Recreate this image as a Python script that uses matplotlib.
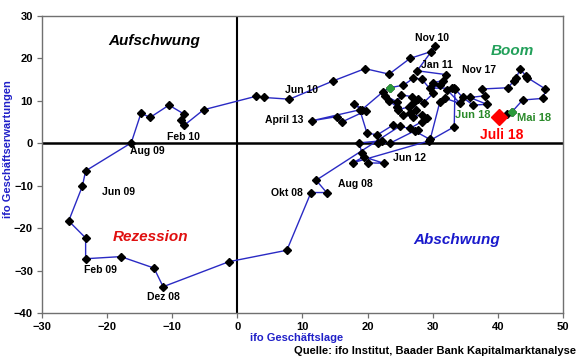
import matplotlib
matplotlib.use("Agg")
import matplotlib.pyplot as plt

plt.rcParams['font.family'] = ['Liberation Sans', 'DejaVu Sans']

# ifo Geschäftslage (x) and ifo Geschäftserwartungen (y)
lage = [25.0, 12.1, 13.7, 11.3, 7.6, -1.3, -11.4, -12.8, -17.9, -23.3, -23.3, -25.9,
        -23.8, -23.3, -16.3, -14.8, -13.4, -10.5, -8.2, -8.6, -8.2, -5.2, 2.9, 4.1,
        8.0, 14.7, 19.6, 23.3, 26.5, 29.7, 30.4, 27.6, 32.0, 31.6, 30.1, 31.1,
        29.6, 32.9, 33.4, 33.3, 29.5, 17.7, 19.4, 22.5, 20.1, 19.1, 18.7, 22.2,
        21.6, 23.4, 27.3, 27.8, 23.9, 21.5, 19.9, 18.8, 11.4, 15.3, 16.0, 19.8,
        17.9, 19.1, 22.4, 23.4, 25.5, 27.0, 28.3, 30.1, 28.6, 27.8, 26.8, 25.2,
        24.5, 22.7, 23.3, 24.5, 24.7, 26.3, 27.0, 27.5, 26.5, 25.5, 27.0, 28.3,
        29.1, 28.3, 26.5, 29.6, 31.1, 31.9, 34.2, 32.2, 33.3, 34.6, 36.2, 38.3,
        35.7, 38.0, 37.5, 41.6, 42.4, 42.8, 43.4, 44.3, 44.5, 47.3, 47.0, 43.8,
        42.1, 41.4, 40.1]
erwartungen = [4.1, -8.7, -11.6, -11.6, -25.2, -27.9, -33.8, -29.4, -26.7, -27.2, -22.3, -18.3,
               -10.1, -6.5, 0.1, 7.1, 6.1, 9.0, 6.9, 5.5, 4.2, 7.9, 11.1, 10.8,
               10.4, 14.7, 17.6, 16.3, 20.0, 21.6, 22.9, 17.1, 16.2, 14.8, 14.3, 13.7,
               13.0, 13.0, 12.7, 3.9, 0.6, -4.6, -3.2, -4.7, -4.6, -2.2, 0.1, 0.6,
               0.0, 0.0, 3.0, 3.1, 4.3, 2.0, 2.4, 7.9, 5.3, 6.3, 5.0, 7.7,
               9.2, 7.9, 12.2, 13.1, 13.7, 15.3, 15.2, 11.8, 9.6, 10.4, 11.0, 11.4,
               9.8, 11.2, 10.0, 8.6, 7.9, 8.6, 9.4, 7.9, 7.1, 6.7, 6.3, 6.7,
               5.9, 5.1, 3.5, 0.9, 9.8, 10.6, 9.4, 12.6, 13.0, 10.8, 9.0, 9.2,
               10.8, 11.2, 12.8, 13.1, 14.7, 15.3, 17.5, 15.9, 15.5, 12.8, 10.6, 10.2,
               7.3, 7.0, 6.3]
green_points = [63, 108]  # indices drawn with green markers

x_ticks = [-30, -20, -10, 0, 10, 20, 30, 40, 50]
y_ticks = [-40, -30, -20, -10, 0, 10, 20, 30]

month_labels = ["Aug 08", "Okt 08", "Dez 08", "Feb 09", "Jun 09", "Aug 09", "Feb 10",
                "Jun 10", "April 13", "Nov 10", "Jan 11", "Jun 12", "Nov 17"]
month_label_pos = [(18.1, -9.6), (7.6, -11.8), (-11.4, -36.2), (-21.0, -29.9), (-18.3, -11.4),
                   (-13.8, -1.7), (-8.3, 1.6), (9.8, 12.6), (7.2, 5.5), (29.9, 24.8),
                   (30.6, 18.5), (26.4, -3.4), (37.1, 17.3)]

fig = plt.figure(figsize=(5.8, 3.59), dpi=100)
ax = fig.add_axes([0.0724, 0.128, 0.8983, 0.8274])

ax.axhline(0, color='black', lw=1.8, zorder=1)
ax.axvline(0, color='black', lw=1.5, zorder=1)

ax.plot(lage, erwartungen, color='#2a2ac4', lw=1.0, marker='D', ms=4.0,
        mfc='black', mec='black', zorder=3)
ax.plot([lage[i] for i in green_points], [erwartungen[i] for i in green_points],
        ls='none', marker='D', ms=4.0, mfc='#2a9a3a', mec='#2a9a3a', zorder=4)
ax.plot(lage[-1:], erwartungen[-1:], ls='none', marker='D', ms=8,
        mfc='#ff0000', mec='#ff0000', zorder=5)

ax.set_xlim(-30, 50)
ax.set_ylim(-40, 30)
ax.set_xticks(x_ticks)
ax.set_yticks(y_ticks)
ax.tick_params(direction='out', length=3.5, width=0.9, color='#707070', labelsize=8, pad=3)
for lab in ax.get_xticklabels() + ax.get_yticklabels():
    lab.set_fontweight('bold')
for sp in ax.spines.values():
    sp.set_color('#707070')
    sp.set_linewidth(1.0)

for txt, (tx, ty) in zip(month_labels, month_label_pos):
    ax.text(tx, ty, txt, fontsize=7.5, fontweight='bold', ha='center', va='center', zorder=6)

ax.text(36.1, 6.7, "Jun 18", fontsize=8, fontweight='bold', color='#2a8a2a', ha='center', va='center')
ax.text(45.5, 6.0, "Mai 18", fontsize=8, fontweight='bold', color='#2a8a2a', ha='center', va='center')
ax.text(40.6, 2.0, "Juli 18", fontsize=10, fontweight='bold', color='#ff0000', ha='center', va='center')

ax.text(-12.7, 24.1, "Aufschwung", fontsize=11, fontweight='bold', style='italic', color='black', ha='center', va='center')
ax.text(42.3, 21.8, "Boom", fontsize=11, fontweight='bold', style='italic', color='#22a05a', ha='center', va='center')
ax.text(-13.4, -22.0, "Rezession", fontsize=11, fontweight='bold', style='italic', color='#e01010', ha='center', va='center')
ax.text(33.7, -22.8, "Abschwung", fontsize=11, fontweight='bold', style='italic', color='#1a1acc', ha='center', va='center')

fig.text(297/580, 1 - 338/359, "ifo Geschäftslage", fontsize=8, fontweight='bold', color='#2020c8', ha='center', va='center')
fig.text(8/580, 1 - 149/359, "ifo Geschäftserwartungen", fontsize=8, fontweight='bold', color='#2020c8',
         ha='center', va='center', rotation=90)
fig.text(576/580, 1 - 351/359, "Quelle: ifo Institut, Baader Bank Kapitalmarktanalyse", fontsize=8,
         fontweight='bold', color='black', ha='right', va='center')

fig.savefig("out.png", dpi=100)
